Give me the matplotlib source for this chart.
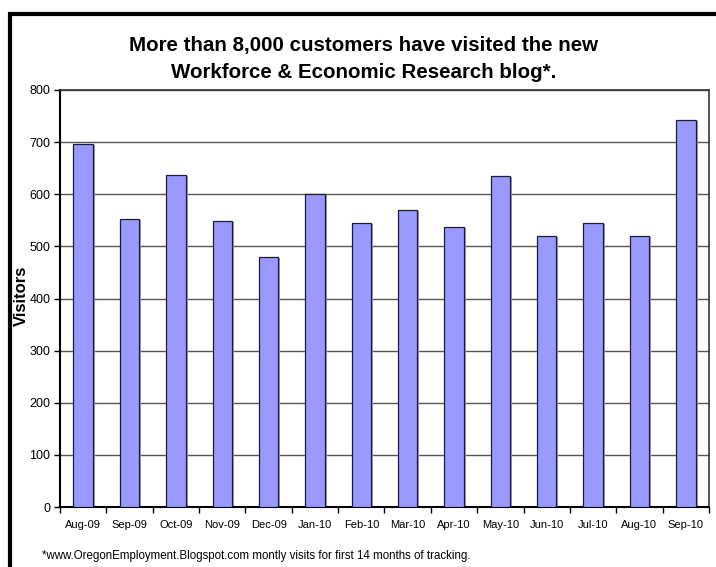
import matplotlib
matplotlib.use("Agg")
import matplotlib.pyplot as plt
import matplotlib.transforms as mtransforms
from matplotlib.patches import Rectangle

plt.rcParams['font.family'] = ['Liberation Sans', 'DejaVu Sans']

months = ['Aug-09', 'Sep-09', 'Oct-09', 'Nov-09', 'Dec-09', 'Jan-10', 'Feb-10',
          'Mar-10', 'Apr-10', 'May-10', 'Jun-10', 'Jul-10', 'Aug-10', 'Sep-10']
visitors = [697, 553, 637, 549, 480, 601, 544, 569, 538, 635, 519, 545, 519, 742]
y_ticks = [0, 100, 200, 300, 400, 500, 600, 700, 800]

fig = plt.figure(figsize=(7.16, 5.67), dpi=100)
ax = fig.add_axes([60 / 716, 1 - 507 / 567, 649 / 716, 417 / 567])

# thick outer frame (left and top visible, runs off the cropped edges)
fig.patches.append(Rectangle((10 / 716, -0.05), 1.1, 1 - 14 / 567 + 0.05,
                             transform=fig.transFigure, fill=False,
                             edgecolor='black', linewidth=3))

x = list(range(len(months)))
# drop shadow behind bars
shadow = mtransforms.offset_copy(ax.transData, fig=fig, x=2, y=-1, units='dots')
ax.bar(x, visitors, width=0.42, color='#a0a0a0', zorder=2, transform=shadow)
ax.bar(x, visitors, width=0.42, color='#9999ff', edgecolor='#1a1a40',
       linewidth=0.9, zorder=3)

ax.set_xlim(-0.5, len(months) - 0.5)
ax.set_ylim(0, 800)
ax.set_yticks(y_ticks)
ax.set_xticks(x)
ax.set_xticklabels(months, fontsize=8)
ax.set_xticks([i - 0.5 for i in range(len(months) + 1)], minor=True)
ax.tick_params(axis='x', which='major', length=0, pad=9)
ax.tick_params(axis='x', which='minor', length=4, width=1, direction='out')
ax.tick_params(axis='y', labelsize=9, length=4, width=1, direction='out', pad=3)
ax.grid(axis='y', color='#555555', linewidth=1, zorder=0)

for s in ['left', 'bottom']:
    ax.spines[s].set_linewidth(1.5)
for s in ['top', 'right']:
    ax.spines[s].set_linewidth(1.2)
    ax.spines[s].set_color('#333333')

fig.text(21 / 716, 1 - 296 / 567, 'Visitors', rotation=90, ha='center', va='center',
         fontsize=12, fontweight='bold')

fig.text(0.508, 1 - 45 / 567, 'More than 8,000 customers have visited the new',
         ha='center', va='center', fontsize=14.8, fontweight='bold')
fig.text(0.508, 1 - 72 / 567, 'Workforce & Economic Research blog*.',
         ha='center', va='center', fontsize=14.8, fontweight='bold')
fig.text(42 / 716, 1 - 556 / 567,
         '*www.OregonEmployment.Blogspot.com montly visits for first 14 months of tracking.',
         ha='left', va='center', fontsize=8.3)

fig.savefig('out.png', dpi=100)
